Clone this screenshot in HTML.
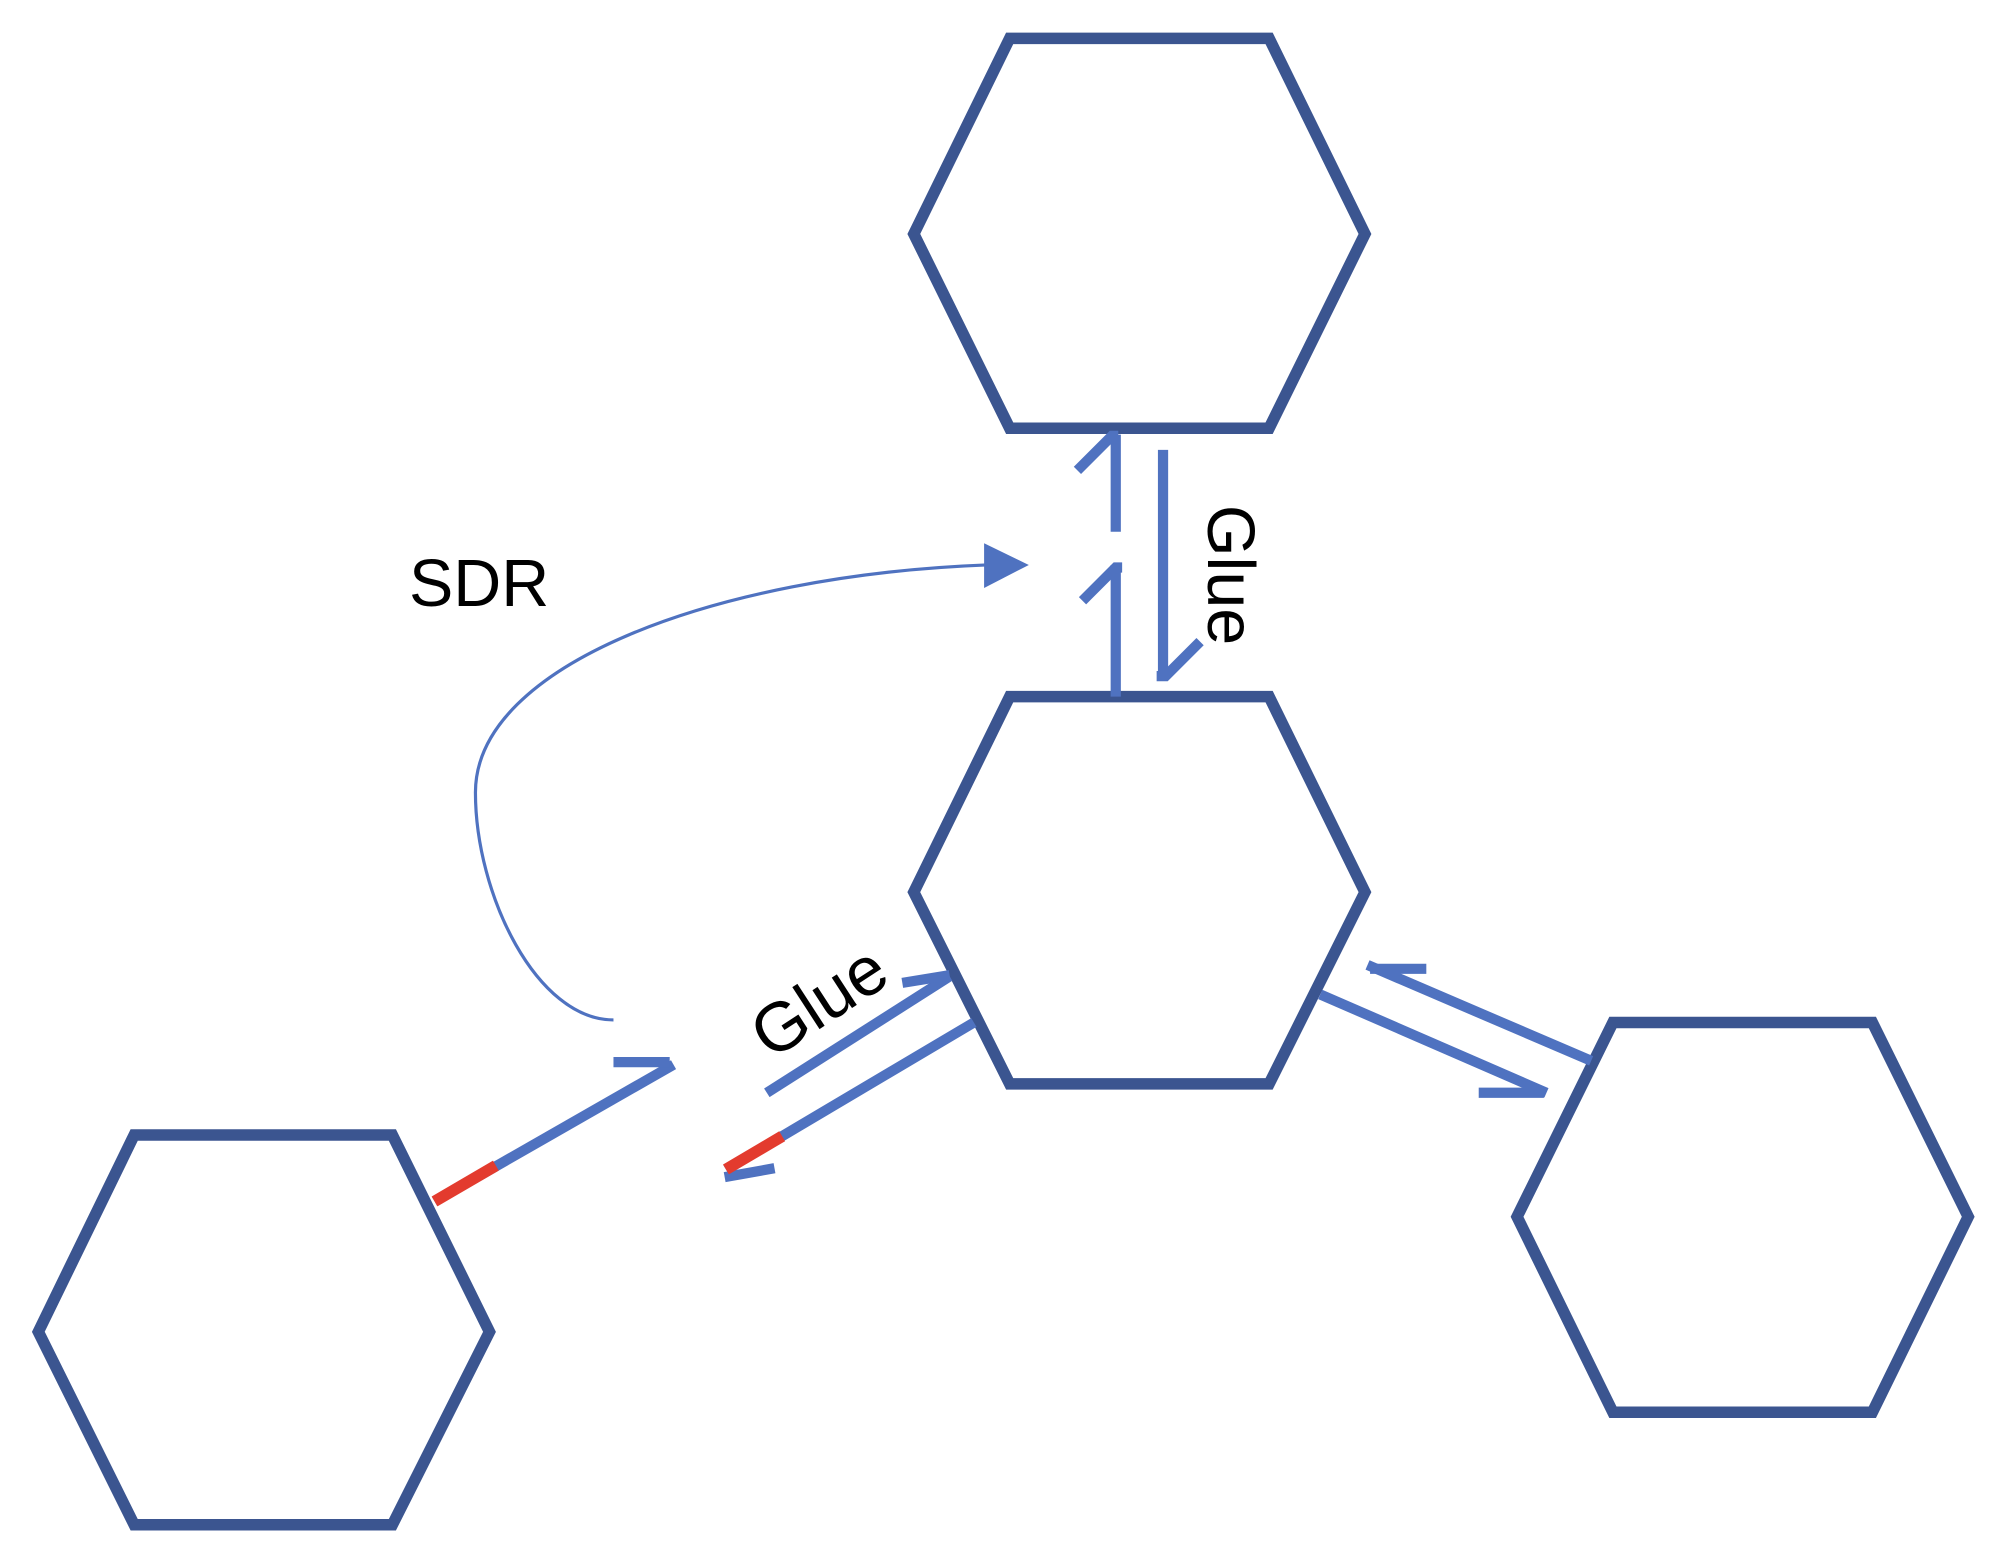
<!DOCTYPE html>
<html><head><meta charset="utf-8"><style>html,body{margin:0;padding:0;background:#fff}svg{display:block}</style></head>
<body>
<svg width="2004" height="1544" viewBox="0 0 1568 1208" xmlns="http://www.w3.org/2000/svg">
<g fill="none" stroke="#3b5590" stroke-width="9">
<polygon points="790,30 993,30 1068,183 993,335 790,335 715,183"/>
<polygon points="790,545 993,545 1068,698 993,848 790,848 715,698"/>
<polygon points="105,888 307,888 383,1042 307,1193 105,1193 30,1042"/>
<polygon points="1262,800 1465,800 1540,952 1465,1105 1262,1105 1187,952"/>
</g>
<g fill="none" stroke="#4f72c0" stroke-width="8">
<line x1="873" y1="545" x2="873" y2="442"/>
<polyline points="847,470 873,444 878,444"/>
<line x1="873" y1="416" x2="873" y2="340"/>
<polyline points="843,368 870,341 875,341"/>
<line x1="910" y1="352" x2="910" y2="530"/>
<polyline points="905,529 912,529 939,502"/>
<line x1="340" y1="940" x2="527" y2="833"/>
<line x1="480" y1="831" x2="524" y2="831"/>
<line x1="600" y1="855" x2="743" y2="764"/>
<line x1="706" y1="769" x2="743" y2="763"/>
<line x1="568" y1="915" x2="762" y2="800"/>
<line x1="567" y1="921" x2="606" y2="914"/>
<line x1="1033" y1="778" x2="1210" y2="855"/>
<line x1="1157" y1="855" x2="1208" y2="855"/>
<line x1="1070" y1="755" x2="1245" y2="830"/>
<line x1="1072" y1="758" x2="1116" y2="758"/>
</g>
<g stroke="#e33b2e" stroke-width="9">
<line x1="340" y1="940" x2="388" y2="912"/>
<line x1="568" y1="915" x2="612" y2="889"/>
</g>
<path d="M480,798 C420,798 372,700 372,620 C372,520 560,450 772,442" fill="none" stroke="#4f72c0" stroke-width="2.5"/>
<polygon points="770,425 805,442 770,460" fill="#4f72c0"/>
<text x="320" y="474" font-family="Liberation Sans, sans-serif" font-size="52">SDR</text>
<text x="0" y="0" transform="translate(945,395) rotate(90)" font-family="Liberation Sans, sans-serif" font-size="52">Glue</text>
<text x="0" y="0" transform="translate(603,830) rotate(-33)" font-family="Liberation Sans, sans-serif" font-size="54">Glue</text>
</svg>
</body></html>
